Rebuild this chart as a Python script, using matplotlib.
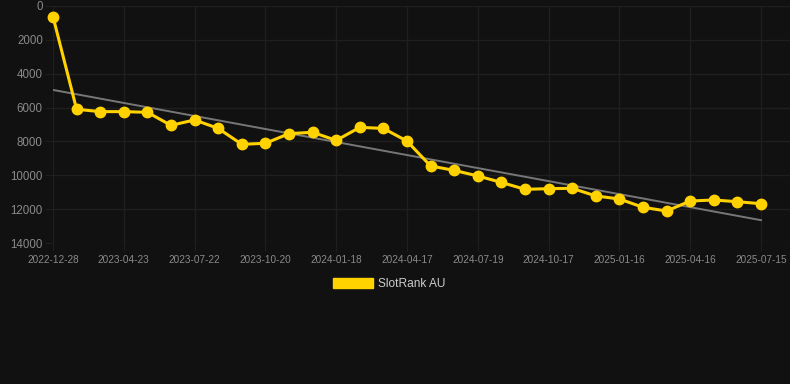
import numpy as np
import matplotlib
matplotlib.use("Agg")
import matplotlib.pyplot as plt
from matplotlib.patches import Patch

plt.rcParams["font.family"] = ["Liberation Sans", "DejaVu Sans"]

# SlotRank AU rank over time (lower number = better rank)
rank = [630, 6100, 6240, 6240, 6280, 7050, 6730, 7230, 8170, 8110,
        7540, 7460, 7940, 7170, 7230, 7980, 9450, 9710, 10040, 10420,
        10830, 10790, 10770, 11220, 11400, 11890, 12110, 11520, 11460, 11560,
        11680]
tick_labels = ["2022-12-28", "2023-04-23", "2023-07-22", "2023-10-20", "2024-01-18",
               "2024-04-17", "2024-07-19", "2024-10-17", "2025-01-16", "2025-04-16",
               "2025-07-15"]
y_ticks = [0, 2000, 4000, 6000, 8000, 10000, 12000, 14000]

bg = "#111111"
grid_col = "#1f1f1f"
yellow = "#ffd200"
label_col = "#8a8a8a"

x = np.arange(len(rank))
slope, intercept = np.polyfit(x, rank, 1)
trend = slope * x + intercept

fig = plt.figure(figsize=(7.9, 3.84), dpi=100, facecolor=bg)
ax = fig.add_axes([53 / 790, 141 / 384, 737 / 790, 237 / 384], facecolor=bg)

ax.plot(x, trend, color="#777777", linewidth=1.4, zorder=2)
ax.plot(x, rank, color=yellow, linewidth=2.2, marker="o", markersize=7.5,
        markerfacecolor=yellow, markeredgecolor=yellow, zorder=3, clip_on=False)

ax.set_ylim(14000, 0)
ax.set_yticks(y_ticks)
ax.set_xlim(0, 31.23)
ax.set_xticks(x[::3])
ax.set_xticklabels(tick_labels)

for s in ax.spines.values():
    s.set_visible(False)
ax.grid(True, color=grid_col, linewidth=1)
ax.set_axisbelow(True)
ax.tick_params(axis="y", colors=grid_col, labelcolor=label_col, labelsize=8.3,
               length=5.8, pad=1.5)
ax.tick_params(axis="x", colors=grid_col, labelcolor=label_col, labelsize=7.2,
               length=5.8, pad=2.5)

fig.legend(handles=[Patch(facecolor=yellow, edgecolor=yellow)], labels=["SlotRank AU"],
           loc="center", bbox_to_anchor=(0.493, 0.26), frameon=False,
           fontsize=8.6, labelcolor="#cccccc", handlelength=3.3, handleheight=0.9,
           handletextpad=0.5)

plt.savefig("out.png", dpi=100, facecolor=bg)
plt.close()
